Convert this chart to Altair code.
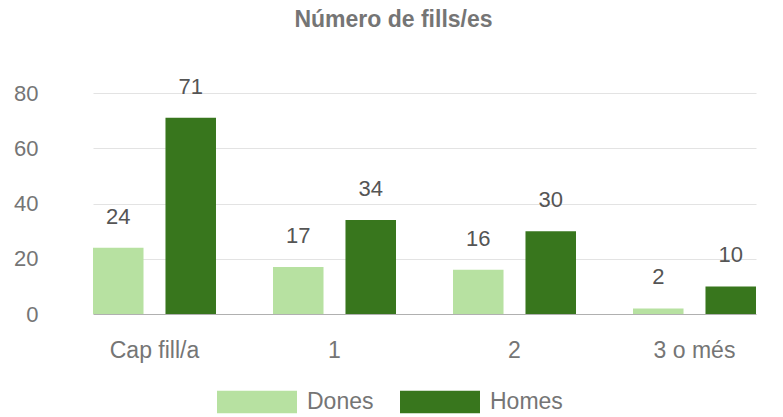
import altair as alt
import pandas as pd

categories = ["Cap fill/a", "1", "2", "3 o més"]
series = ["Dones", "Homes"]
dones = [24, 17, 16, 2]
homes = [71, 34, 30, 10]
colors = ["#b7e1a1", "#38761d"]
y_ticks = [0, 20, 40, 60, 80]

rows = []
for c, d, h in zip(categories, dones, homes):
    rows.append({"cat": c, "serie": "Dones", "val": d})
    rows.append({"cat": c, "serie": "Homes", "val": h})
df = pd.DataFrame(rows)

FONT = "Liberation Sans"

x_enc = alt.X("cat:N", sort=categories, title=None,
              scale=alt.Scale(range=[45, 708], paddingInner=0.3167, paddingOuter=0),
              axis=alt.Axis(labelAngle=0, ticks=False, domain=False, grid=False,
                            labelPadding=25, labelFontSize=23, labelColor="#757575",
                            labelFont=FONT))
xo_enc = alt.XOffset("serie:N", sort=series,
                     scale=alt.Scale(paddingInner=0.303, paddingOuter=0))
y_enc = alt.Y("val:Q", title=None,
              scale=alt.Scale(domain=[0, 80], nice=False),
              axis=alt.Axis(values=y_ticks, ticks=False, domain=False,
                            labelPadding=10, labelFontSize=22, labelColor="#757575",
                            labelFont=FONT,
                            gridColor=alt.condition("datum.value === 0", alt.value("#b0b0b0"), alt.value("#e3e3e3")),
                            gridWidth=1.2))

color_enc = alt.Color("serie:N", sort=series,
                      scale=alt.Scale(domain=series, range=colors),
                      legend=alt.Legend(title=None, orient="none", direction="horizontal",
                                        legendX=169, legendY=269,
                                        symbolType="M-1,-0.28L1,-0.28L1,0.28L-1,0.28Z",
                                        symbolSize=6400, symbolStrokeWidth=0,
                                        symbolOpacity=1,
                                        labelFontSize=23, labelColor="#757575",
                                        labelFont=FONT, labelOffset=10,
                                        columnPadding=26))

bars = alt.Chart(df).mark_bar(opacity=1).encode(
    x=x_enc, xOffset=xo_enc, y=y_enc, color=color_enc
)

labels = alt.Chart(df).mark_text(
    dy=-31, baseline="middle", align="center", fontSize=22, color="#555555", font=FONT
).encode(
    x=alt.X("cat:N", sort=categories),
    xOffset=alt.XOffset("serie:N", sort=series),
    y=alt.Y("val:Q"),
    text=alt.Text("val:Q"),
)

chart = alt.layer(bars, labels).properties(
    width=727,
    height=221,
    autosize=alt.AutoSizeParams(type="none"),
    padding={"left": 40, "top": 85, "right": 0, "bottom": 103},
    title=alt.TitleParams("Número de fills/es", fontSize=23, fontWeight="bold",
                          color="#757575", font=FONT, frame="group",
                          anchor="middle", offset=44, dx=-18),
).configure_view(stroke=None)

chart.save("out.html", embed_options={"renderer": "svg", "actions": False})
